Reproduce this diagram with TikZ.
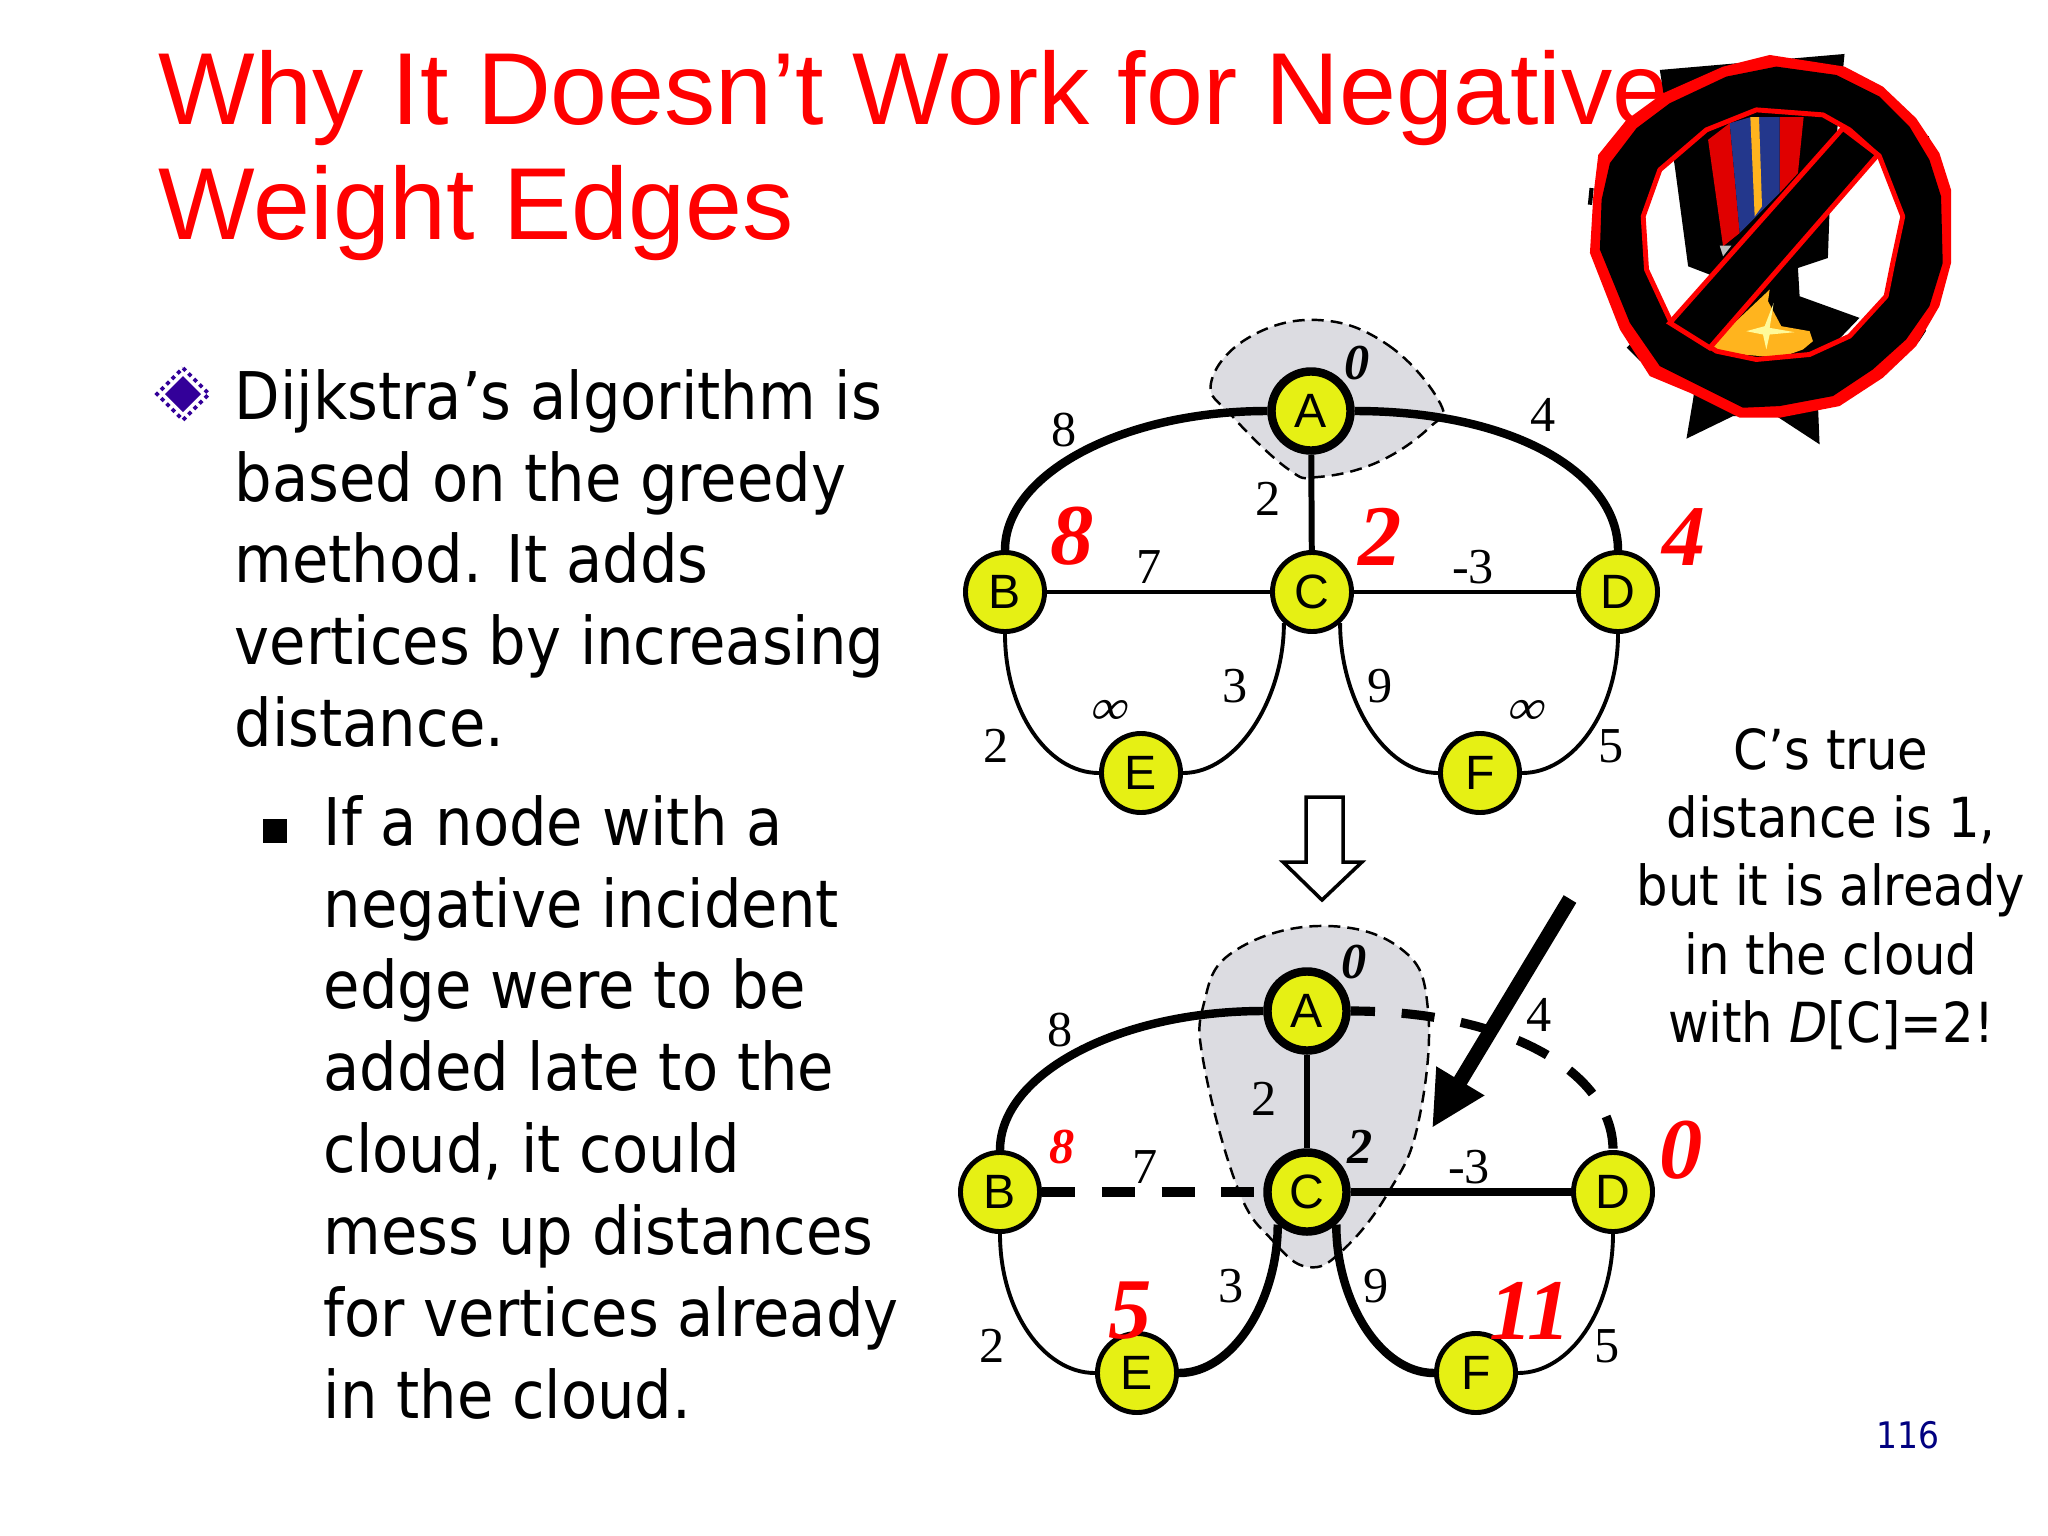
\documentclass[tikz,border=0pt]{standalone}
\usepackage{fontspec}
\usetikzlibrary{arrows.meta}
\newfontfamily\titlefont{Liberation Sans}
\newfontfamily\weightfont{Liberation Serif}
\newfontfamily\slantfont[FakeSlant=0.3]{Liberation Serif}
\newfontfamily\bodyfont{DejaVu Sans Condensed}

\tikzset{
    graphvertex/.style={circle, draw=black, line width=1.4pt, fill=vertexyellow, minimum size=0.79cm,
        inner sep=0pt, font=\titlefont\fontsize{13.7}{15}\selectfont},
    boldvertex/.style={graphvertex, line width=2.4pt},
    weightlabel/.style={inner sep=0pt, font=\weightfont\fontsize{14.3}{16}\selectfont},
    infinitylabel/.style={inner sep=0pt, font=\slantfont\bfseries\fontsize{14.3}{16}\selectfont},
    distlabel/.style={inner sep=0pt, text=red, font=\weightfont\bfseries\itshape\fontsize{24.6}{26}\selectfont},
    smalldist/.style={inner sep=0pt, font=\weightfont\bfseries\itshape\fontsize{14.3}{16}\selectfont},
    cloudshape/.style={fill=cloudgrey, draw=black, line width=0.7pt, dash pattern=on 3.4pt off 2pt},
    thinedge/.style={line width=1.1pt},
    midedge/.style={line width=1.7pt},
    thickedge/.style={line width=2.4pt},
    dashedge/.style={line width=2.6pt, dash pattern=on 9.4pt off 7.6pt},
}
\definecolor{vertexyellow}{RGB}{230,240,20}
\definecolor{cloudgrey}{RGB}{220,220,225}
\definecolor{bulletblue}{RGB}{51,0,153}
\definecolor{ribbonblue}{RGB}{35,55,140}
\definecolor{medalgold}{RGB}{255,180,30}

\newcommand{\ringouter}{(660,75) -- (885,110) -- (1000,170) -- (1100,265) -- (1170,370) -- (1205,480) -- (1205,700) -- (1170,830) -- (1100,950) -- (1000,1045) -- (870,1130) -- (690,1165) -- (570,1165) -- (420,1090) -- (300,1040) -- (210,900) -- (120,670) -- (130,500) -- (145,375) -- (230,270) -- (340,190) -- (520,110) -- cycle}
\newcommand{\ringmiddle}{(680,110) -- (860,135) -- (990,200) -- (1080,290) -- (1140,390) -- (1175,500) -- (1180,700) -- (1140,830) -- (1070,930) -- (970,1020) -- (850,1100) -- (690,1130) -- (580,1135) -- (440,1065) -- (330,1010) -- (240,880) -- (150,660) -- (155,510) -- (180,400) -- (260,295) -- (360,220) -- (530,140) -- cycle}
\newcommand{\ringhole}{(620,240) -- (820,255) -- (900,300) -- (990,380) -- (1060,560) -- (1030,700) -- (1010,800) -- (900,920) -- (780,975) -- (620,990) -- (500,965) -- (360,870) -- (290,720) -- (280,560) -- (330,420) -- (470,300) -- cycle}

\begin{document}
\begin{tikzpicture}[x=0.01cm, y=-0.01cm]
    \useasboundingbox (0,0) rectangle (2048,1536);
    \fill[white] (0,0) rectangle (2048,1536);

    % Title
    \node[anchor=base west, inner sep=0pt, text=red, align=left,
        font=\titlefont\fontsize{29.1}{32.7}\selectfont] (title) at (158,239)
        {Why It Doesn’t Work for Negative\\Weight Edges};

    % Bullet text
    \node[anchor=base west, inner sep=0pt, align=left,
        font=\bodyfont\fontsize{18.7}{23.27}\selectfont] (mainitem) at (234,746.5)
        {Dijkstra’s algorithm is\\based on the greedy\\method. It adds\\vertices by increasing\\distance.};
    \node[anchor=base west, inner sep=0pt, align=left,
        font=\bodyfont\fontsize{18.7}{23.27}\selectfont] (subitem) at (323,1418)
        {If a node with a\\negative incident\\edge were to be\\added late to the\\cloud, it could\\mess up distances\\for vertices already\\in the cloud.};
    \fill[bulletblue] (183,376) -- (201,394) -- (183,412) -- (165,394) -- cycle;
    \draw[bulletblue, line width=1.1pt, dash pattern=on 1.1pt off 1.1pt] (183,368) -- (209,394) -- (183,420) -- (157,394) -- cycle;
    \fill[black] (263,819) rectangle (287,843);

    % Medal
    \begin{scope}[shift={(1550,30)}, x=0.00333cm, y=-0.00333cm]
        \fill[black] (330,120) -- (885,72) -- (840,540) -- (835,685) -- (745,715) -- (750,800) -- (930,865) -- (800,1000) -- (810,1245) -- (680,1160) -- (550,1160) -- (410,1228) -- (430,1110) -- (480,735) -- (415,710) -- (375,410) -- cycle;
        \fill[red!88!black] (475,330) -- (540,280) -- (570,610) -- (520,650) -- cycle;
        \fill[red!88!black] (690,262) -- (762,262) -- (745,430) -- (690,490) -- cycle;
        \fill[ribbonblue] (540,280) -- (602,262) -- (690,262) -- (690,490) -- (570,610) -- cycle;
        \fill[medalgold] (602,262) -- (628,262) -- (637,530) -- (615,560) -- cycle;
        \fill[black!25] (510,648) -- (545,648) -- (520,680) -- cycle;
        \fill[medalgold] (660,780) -- (655,815) -- (695,890) -- (780,905) -- (790,935) -- (760,960) -- (690,985) -- (520,970) -- (480,950) -- cycle;
        \fill[yellow!40] (650,960) -- (660,915) -- (735,908) -- (660,895) -- (672,820) -- (645,890) -- (590,905) -- (640,915) -- cycle;
        \draw[black, line width=1.2pt] (120,525) -- (125,475) (1132,320) -- (1148,400) (1102,935) -- (1125,900) (235,950) -- (275,990);
        \fill[red, even odd rule] \ringouter \ringhole;
        \fill[black, even odd rule] \ringmiddle \ringhole;
        \draw[red, line width=1.4pt, line join=round] \ringhole;
        \draw[red, fill=black, line width=1.4pt] (360,880) -- (880,295) -- (985,375) -- (480,955) -- cycle;
    \end{scope}

    % Top graph
    \fill[cloudgrey] plot[smooth cycle, tension=0.7] coordinates {(1318,320) (1388,345) (1440,403) (1430,427) (1378,462) (1318,477) (1288,469) (1233,417) (1211,383) (1248,338)};
    \draw[cloudshape, fill=none] plot[smooth cycle, tension=0.7] coordinates {(1318,320) (1388,345) (1440,403) (1430,427) (1378,462) (1318,477) (1288,469) (1233,417) (1211,383) (1248,338)};
    \node[boldvertex] (topA) at (1311,411) {A};
    \foreach \name/\x/\y in {B/1005/592, C/1312/592, D/1618/592, E/1141/773, F/1480/773} {
        \node[graphvertex] (top\name) at (\x,\y) {\name};
    }
    \draw[thickedge] (topA.west) .. controls +(-145,0) and +(0,-76) .. (topB.north);
    \draw[thickedge] (topA.east) .. controls +(160,0) and +(0,-76) .. (topD.north);
    \draw[midedge] (topA) -- (topC);
    \draw[thinedge] (topB) -- (topC);
    \draw[thinedge] (topC) -- (topD);
    \draw[thinedge] (topB.south) .. controls +(0,76) and +(-52,0) .. (topE.west);
    \draw[thinedge] (topC.228) .. controls +(0,76) and +(54,0) .. (topE.east);
    \draw[thinedge] (topC.312) .. controls +(0,76) and +(-54,0) .. (topF.west);
    \draw[thinedge] (topD.south) .. controls +(0,76) and +(52,0) .. (topF.east);

    \foreach \wt/\x/\y in {8/1064/430, 4/1543/415, 2/1268/499, 7/1149/567, -3/1473/567, 3/1235/686, 9/1380/686, 2/996/746, 5/1611/746} {
        \node[weightlabel] at (\x,\y) {\wt};
    }
    \node[smalldist] at (1357,363) {0};
    \node[infinitylabel] at (1106,712) {∞};
    \node[infinitylabel] at (1523,712) {∞};
    \node[distlabel] at (1072,536) {8};
    \node[distlabel] at (1380,537) {2};
    \node[distlabel] at (1684,537) {4};

    % Down arrow
    \draw[line width=1pt, fill=white] (1306,797) -- (1343,797) -- (1343,862) -- (1362,862) -- (1322,900) -- (1283,862) -- (1306,862) -- cycle;

    % Bottom graph
    \fill[cloudgrey] plot[smooth cycle, tension=0.7] coordinates {(1318,926) (1400,948) (1428,1010) (1418,1124) (1388,1193) (1343,1250) (1308,1267) (1273,1241) (1238,1189) (1204,1065) (1204,1003) (1233,952)};
    \draw[cloudshape, fill=none] plot[smooth cycle, tension=0.7] coordinates {(1318,926) (1400,948) (1428,1010) (1418,1124) (1388,1193) (1343,1250) (1308,1267) (1273,1241) (1238,1189) (1204,1065) (1204,1003) (1233,952)};
    \node[boldvertex] (botA) at (1307,1011) {A};
    \node[boldvertex] (botC) at (1307,1192) {C};
    \foreach \name/\x/\y in {B/1000/1192, D/1613/1192, E/1137/1373, F/1476/1373} {
        \node[graphvertex] (bot\name) at (\x,\y) {\name};
    }
    \draw[thickedge] (botA.west) .. controls +(-145,0) and +(0,-76) .. (botB.north);
    \draw[dashedge, dash phase=2.5pt] (botA.east) .. controls +(160,0) and +(0,-76) .. (botD.north);
    \draw[midedge] (botA) -- (botC);
    \draw[dashedge] (botB) -- (botC);
    \draw[thickedge] (botC) -- (botD);
    \draw[thinedge] (botB.south) .. controls +(0,76) and +(-52,0) .. (botE.west);
    \draw[thickedge] (botC.228) .. controls +(0,76) and +(54,0) .. (botE.east);
    \draw[thickedge] (botC.312) .. controls +(0,76) and +(-54,0) .. (botF.west);
    \draw[thinedge] (botD.south) .. controls +(0,76) and +(52,0) .. (botF.east);

    \foreach \wt/\x/\y in {8/1060/1030, 4/1539/1015, 2/1264/1099, 7/1145/1167, -3/1469/1167, 3/1231/1286, 9/1376/1286, 2/992/1346, 5/1607/1346} {
        \node[weightlabel] at (\x,\y) {\wt};
    }
    \node[smalldist] at (1354,962) {0};
    \node[smalldist] at (1360,1147) {2};
    \node[smalldist, text=red] at (1062,1147) {8};
    \node[distlabel] at (1681,1150) {0};
    \node[distlabel] at (1130,1311) {5};
    \node[distlabel] at (1530,1311) {11};

    % Callout
    \coordinate (calloutstart) at (1570,899);
    \coordinate (callouttip) at (1432,1128);
    \draw[line width=4.2pt, -{Triangle[length=0.55cm, width=0.52cm]}] (calloutstart) -- (callouttip);
    \node[inner sep=0pt, anchor=base, align=center,
        font=\bodyfont\fontsize{15.7}{19.43}\selectfont] (callout) at (1831,1042.5)
        {C’s true\\distance is 1,\\but it is already\\in the cloud\\with \textit{D}[C]=2!};

    \node[inner sep=0pt, text=blue!50!black, font=\bodyfont\fontsize{10.4}{12}\selectfont] (pagenum) at (1908,1435) {116};
\end{tikzpicture}
\end{document}
